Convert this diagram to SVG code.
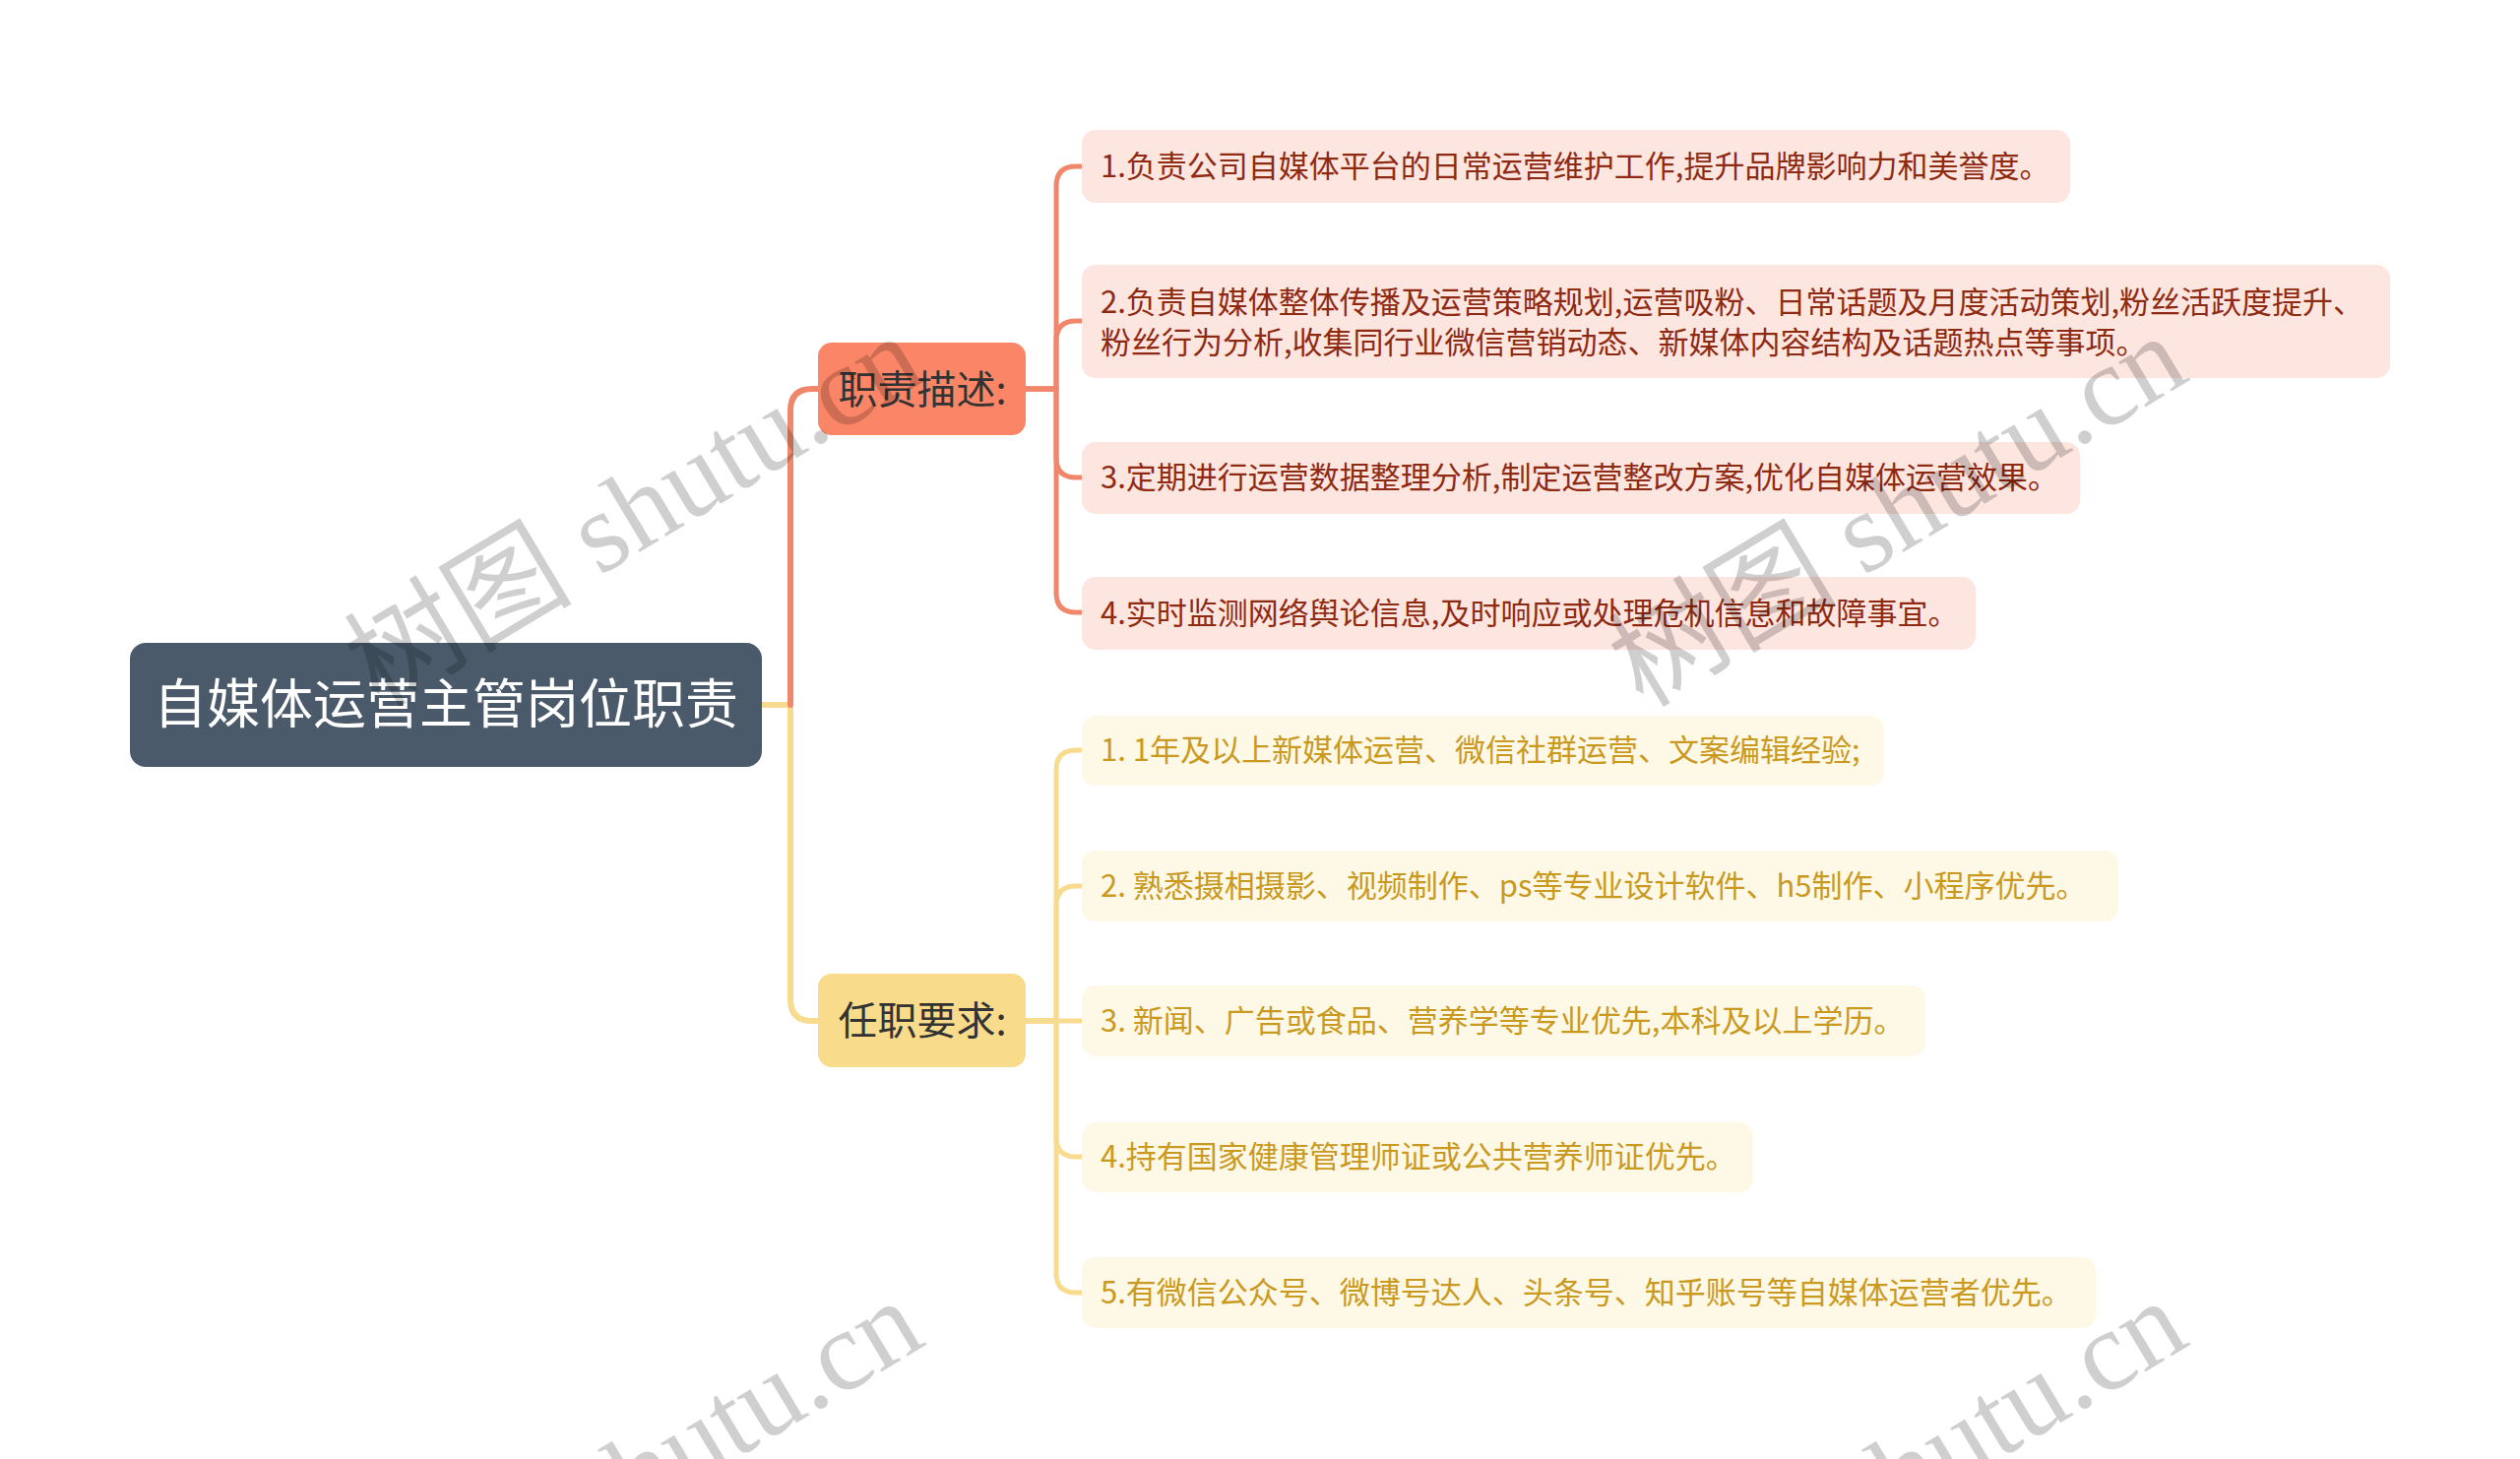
<svg xmlns="http://www.w3.org/2000/svg" width="2560" height="1482" viewBox="0 0 2560 1482">
<style>
.cj{font-family:"Noto Sans CJK SC","Noto Sans",sans-serif}
.o{fill:none;stroke:#F0876A;stroke-linecap:round;stroke-linejoin:round}
.y{fill:none;stroke:#F7DC8F;stroke-linecap:round;stroke-linejoin:round}
.ol{fill:#FDE5E0}
.yl{fill:#FEF8E6}
.ot{fill:#8F2A12;font-size:31px}
.yt{fill:#C99A1F;font-size:31px}
.bt{fill:#333333;font-size:40px}
.wm{font-family:"Liberation Serif","Noto Sans CJK SC",serif;font-size:116px;fill:#000;fill-opacity:0.19}
</style>
<rect width="2560" height="1482" fill="#ffffff"/>
<g id="connectors">
<path class="y" stroke-width="6" d="M774,716 H803 V1015 Q803,1037 825,1037 H831"/>
<path class="o" stroke-width="6" d="M803,716 V417 Q803,395 825,395 H831"/>
<g stroke-width="5">
<path class="o" d="M1042,395 H1073 V189 Q1073,169 1093,169 H1099"/>
<path class="o" d="M1042,395 H1073 V346 Q1073,326 1093,326 H1099"/>
<path class="o" d="M1042,395 H1073 V465 Q1073,485 1093,485 H1099"/>
<path class="o" d="M1042,395 H1073 V602 Q1073,622 1093,622 H1099"/>
<path class="y" d="M1042,1037 H1073 V782 Q1073,762 1093,762 H1099"/>
<path class="y" d="M1042,1037 H1073 V920 Q1073,900 1093,900 H1099"/>
<path class="y" d="M1042,1037 H1099"/>
<path class="y" d="M1042,1037 H1073 V1155 Q1073,1175 1093,1175 H1099"/>
<path class="y" d="M1042,1037 H1073 V1293 Q1073,1313 1093,1313 H1099"/>
</g>
</g>
<g id="root">
<rect x="132" y="653" width="642" height="126" rx="16" fill="#4A5A6A"/>
<text class="cj" x="453" y="735" text-anchor="middle" font-size="54" fill="#ffffff">自媒体运营主管岗位职责</text>
</g>
<g id="duty">
<rect x="831" y="348" width="211" height="94" rx="14" fill="#FA8667"/>
<text class="cj bt" x="937" y="410" text-anchor="middle">职责描述:</text>
</g>
<g id="req">
<rect x="831" y="989" width="211" height="95" rx="14" fill="#F8DC8C"/>
<text class="cj bt" x="937" y="1051" text-anchor="middle">任职要求:</text>
</g>
<g id="d1">
<rect class="ol" x="1099" y="132" width="1004" height="74" rx="14"/>
<text class="cj ot" x="1118" y="180">1.负责公司自媒体平台的日常运营维护工作,提升品牌影响力和美誉度。</text>
</g>
<g id="d2">
<rect class="ol" x="1099" y="269" width="1329" height="115" rx="14"/>
<text class="cj ot" x="1118" y="318">2.负责自媒体整体传播及运营策略规划,运营吸粉、日常话题及月度活动策划,粉丝活跃度提升、</text>
<text class="cj ot" x="1118" y="359">粉丝行为分析,收集同行业微信营销动态、新媒体内容结构及话题热点等事项。</text>
</g>
<g id="d3">
<rect class="ol" x="1099" y="449" width="1014" height="73" rx="14"/>
<text class="cj ot" x="1118" y="496">3.定期进行运营数据整理分析,制定运营整改方案,优化自媒体运营效果。</text>
</g>
<g id="d4">
<rect class="ol" x="1099" y="586" width="908" height="74" rx="14"/>
<text class="cj ot" x="1118" y="634">4.实时监测网络舆论信息,及时响应或处理危机信息和故障事宜。</text>
</g>
<g id="r1">
<rect class="yl" x="1099" y="727" width="815" height="71" rx="14"/>
<text class="cj yt" x="1118" y="773">1. 1年及以上新媒体运营、微信社群运营、文案编辑经验;</text>
</g>
<g id="r2">
<rect class="yl" x="1099" y="864" width="1053" height="72" rx="14"/>
<text class="cj yt" x="1118" y="911">2. 熟悉摄相摄影、视频制作、ps等专业设计软件、h5制作、小程序优先。</text>
</g>
<g id="r3">
<rect class="yl" x="1099" y="1001" width="857" height="72" rx="14"/>
<text class="cj yt" x="1118" y="1048">3. 新闻、广告或食品、营养学等专业优先,本科及以上学历。</text>
</g>
<g id="r4">
<rect class="yl" x="1099" y="1140" width="682" height="71" rx="14"/>
<text class="cj yt" x="1118" y="1186">4.持有国家健康管理师证或公共营养师证优先。</text>
</g>
<g id="r5">
<rect class="yl" x="1099" y="1277" width="1030" height="72" rx="14"/>
<text class="cj yt" x="1118" y="1324">5.有微信公众号、微博号达人、头条号、知乎账号等自媒体运营者优先。</text>
</g>
<g id="watermark">
<text class="wm" transform="translate(385,720) rotate(-31)">树图 shutu.cn</text>
<text class="wm" transform="translate(1669,720) rotate(-31)">树图 shutu.cn</text>
<text class="wm" transform="translate(385,1700) rotate(-31)">树图 shutu.cn</text>
<text class="wm" transform="translate(1669,1700) rotate(-31)">树图 shutu.cn</text>
</g>
</svg>
